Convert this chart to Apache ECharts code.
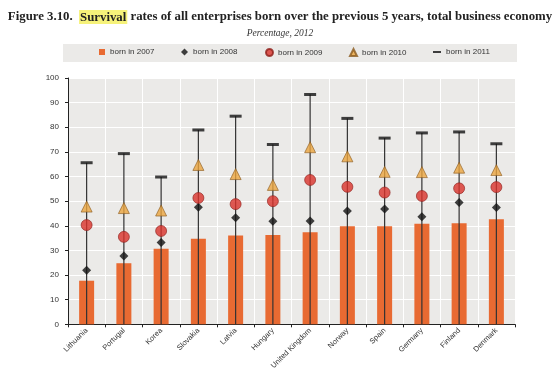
<!DOCTYPE html>
<html><head><meta charset="utf-8">
<script src="https://cdn.jsdelivr.net/npm/echarts@6/dist/echarts.min.js"></script>
<style>html,body{margin:0;padding:0;background:#fff}#c{width:560px;height:372px}</style>
</head><body><div id="c"></div>
<script>
var categories = ["Lithuania","Portugal","Korea","Slovakia","Latvia","Hungary","United Kingdom","Norway","Spain","Germany","Finland","Denmark"];
var born2007 = [17.7, 24.8, 30.7, 34.7, 36.1, 36.3, 37.4, 39.8, 39.8, 40.8, 41.0, 42.7];
var born2008 = [22.0, 27.7, 33.2, 47.5, 43.3, 41.8, 41.9, 46.0, 46.8, 43.7, 49.5, 47.4];
var born2009 = [40.3, 35.5, 37.9, 51.3, 48.8, 50.0, 58.6, 55.8, 53.5, 52.1, 55.2, 55.7];
var born2010 = [47.8, 47.2, 46.2, 64.7, 61.0, 56.6, 71.9, 68.2, 61.9, 61.8, 63.6, 62.6];
var born2011 = [65.6, 69.3, 59.8, 78.9, 84.5, 73.0, 93.3, 83.6, 75.6, 77.7, 78.1, 73.3];
var yTicks = [0,10,20,30,40,50,60,70,80,90,100];

var chart = echarts.init(document.getElementById('c'), null, {renderer:'canvas'});
var legendFont = {fontFamily:'Liberation Sans', fontSize:8, color:'#333'};
function lg(name, left, icon, w, h){
  return {data:[{name:name, icon:icon}], left:left, top:48, itemWidth:w, itemHeight:h, textStyle:legendFont, padding:0, itemGap:0, selectedMode:false};
}
chart.setOption({
  animation:false,
  title:[{
    text:'{a|Figure 3.10.  }{b|Survival}{c| rates of all enterprises born over the previous 5 years, total business economy}',
    left:'center', top:5,
    textStyle:{rich:{
      a:{fontFamily:'Liberation Serif', fontSize:12.8, color:'#222'},
      b:{fontFamily:'Liberation Serif', fontSize:12.8, fontWeight:'bold', color:'#222', backgroundColor:'#F6F27A', padding:[1,1,0,1]},
      c:{fontFamily:'Liberation Serif', fontSize:12.8, fontWeight:'bold', color:'#222'}
    }}
  },{
    text:'Percentage, 2012', left:'center', top:23,
    textStyle:{fontFamily:'Liberation Serif', fontSize:9.5, fontStyle:'italic', fontWeight:'normal', color:'#333'}
  }],
  graphic:[{type:'rect', shape:{x:63,y:44,width:454,height:18}, style:{fill:'#EBEAE8'}, z:-1}],
  legend:[
    lg('born in 2007', 99, 'rect', 6, 6),
    lg('born in 2008', 181, 'diamond', 7, 7),
    lg('born in 2009', 265, 'circle', 7, 7),
    lg('born in 2010', 349, 'triangle', 7, 7),
    lg('born in 2011', 433, 'rect', 8, 2)
  ],
  grid:{left:68, right:45, top:78, bottom:36.5, show:true, backgroundColor:'#EBEAE8', borderWidth:0},
  xAxis:{type:'category', data:categories,
    axisLine:{lineStyle:{color:'#222', width:1}},
    axisTick:{show:true, length:3, lineStyle:{color:'#222'}},
    splitLine:{show:true, lineStyle:{color:'#fff', width:1}},
    axisLabel:{rotate:45, fontFamily:'Liberation Sans', fontSize:7.5, color:'#333', margin:5, interval:0}
  },
  yAxis:{type:'value', min:0, max:100, interval:10,
    axisLine:{show:true, lineStyle:{color:'#222', width:1}},
    axisTick:{show:true, length:3, lineStyle:{color:'#222'}},
    splitLine:{show:true, lineStyle:{color:'#fff', width:1}},
    axisLabel:{fontFamily:'Liberation Sans', fontSize:8, color:'#333', margin:9,
      formatter:function(v){return yTicks.indexOf(v)>=0 ? String(v) : '';}}
  },
  series:[
    {name:'born in 2007', type:'bar', data:born2007, barWidth:15, itemStyle:{color:'#E86A32'}, z:2},
    {name:'stem', type:'custom', z:3, data:born2011.map(function(v,i){return [i,v];}),
      encode:{x:0,y:1},
      renderItem:function(params, api){
        var p0 = api.coord([api.value(0), 0]);
        var p1 = api.coord([api.value(0), api.value(1)]);
        return {type:'line', shape:{x1:p0[0],y1:p0[1],x2:p1[0],y2:p1[1]}, style:{stroke:'#333', lineWidth:1.2}};
      }},
    {name:'born in 2008', type:'scatter', data:born2008, symbol:'diamond', symbolSize:9, itemStyle:{color:'#111'}, z:4},
    {name:'born in 2009', type:'scatter', data:born2009, symbol:'circle', symbolSize:11, itemStyle:{color:'#D9322B', borderColor:'#8E1F1A', borderWidth:0.8}, z:5},
    {name:'born in 2010', type:'scatter', data:born2010, symbol:'triangle', symbolSize:11, itemStyle:{color:'#EBA53E', borderColor:'#8A5A1E', borderWidth:0.8}, z:6},
    {name:'born in 2011', type:'scatter', data:born2011, symbol:'rect', symbolSize:[12,3], itemStyle:{color:'#111'}, z:7}
  ]
});
</script></body></html>
